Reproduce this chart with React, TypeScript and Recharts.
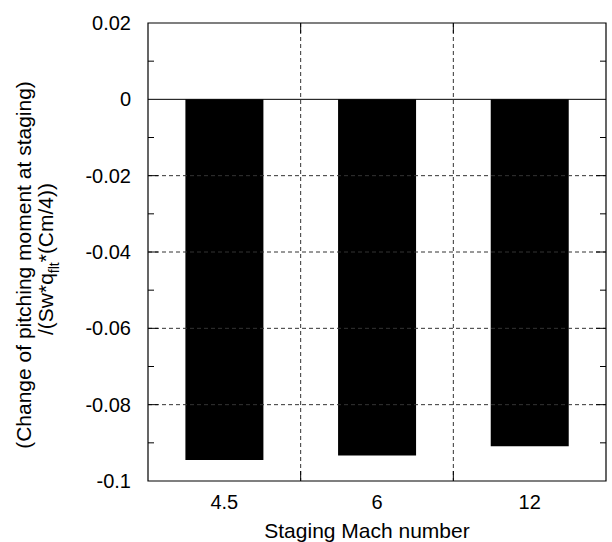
import React from 'react';
import { BarChart, Bar, XAxis, YAxis, ReferenceLine, ReferenceArea, Label } from 'recharts';

const machNumbers = ['4.5', '6', '12'];
const momentChange = [-0.0945, -0.0933, -0.0909];

const yMajorTicks = [0.02, 0, -0.02, -0.04, -0.06, -0.08, -0.1];
const yGridValues = [-0.02, -0.04, -0.06, -0.08];
const yMinorTicks = [0.01, -0.01, -0.03, -0.05, -0.07, -0.09];

const data = machNumbers.map((mach, i) => ({ mach, value: momentChange[i] }));

const FONT = '"Liberation Sans", Arial, sans-serif';
const GRID = '#333';

const fmt = (v: number) => String(parseFloat(v.toFixed(2)));

// horizontal line with short solid ticks at both ends; dashed body is optional
const hLine = (tick: number, dashed: boolean) => (p: any) => (
    <g>
        {dashed && <line x1={p.x1} y1={p.y1} x2={p.x2} y2={p.y2} stroke={GRID} strokeDasharray="4 3" />}
        <line x1={p.x1} y1={p.y1} x2={p.x1 + tick} y2={p.y1} stroke="#000" />
        <line x1={p.x2 - tick} y1={p.y2} x2={p.x2} y2={p.y2} stroke="#000" />
    </g>
);

// vertical boundary between categories: dashed line, ticks at top and bottom
const vLine = (p: any) => {
    const top = Math.min(p.y1, p.y2);
    const bottom = Math.max(p.y1, p.y2);
    return (
        <g>
            <line x1={p.x1} y1={top} x2={p.x2} y2={bottom} stroke={GRID} strokeDasharray="4 3" />
            <line x1={p.x1} y1={top} x2={p.x1} y2={top + 10} stroke="#000" />
            <line x1={p.x1} y1={bottom - 10} x2={p.x1} y2={bottom} stroke="#000" />
        </g>
    );
};

const XTitle = (props: any) => {
    const { x, y, width, height } = props.viewBox;
    return (
        <text x={x + width / 2 - 10} y={y + height - 4} textAnchor="middle" fontSize={21} fontFamily={FONT} fill="#000">
            Staging Mach number
        </text>
    );
};

const YTitle = (props: any) => {
    const { x, y, height } = props.viewBox;
    const cy = y + height / 2;
    const x1 = x + 31;
    const x2 = x + 53;
    return (
        <g fontFamily={FONT} fontSize={21} fill="#000">
            <text x={x1} y={cy + 13} textAnchor="middle" transform={`rotate(-90, ${x1}, ${cy + 13})`}>
                (Change of pitching moment at staging)
            </text>
            <text x={x2} y={cy + 7} textAnchor="middle" transform={`rotate(-90, ${x2}, ${cy + 7})`}>
                <tspan>/(Sw*q</tspan>
                <tspan fontSize={14} dy={6}>flt</tspan>
                <tspan dy={-6}>*(Cm/4))</tspan>
            </text>
        </g>
    );
};

export default function App() {
    return (
        <div style={{ position: 'absolute', left: 0, top: 0, background: '#fff' }}>
            <BarChart
                width={612}
                height={542}
                data={data}
                margin={{ top: 23, right: 6, bottom: 0, left: 0 }}
                barCategoryGap="24.5%"
            >
                <XAxis
                    dataKey="mach"
                    height={61}
                    interval={0}
                    tickLine={false}
                    axisLine={false}
                    tickSize={0}
                    tickMargin={14}
                    tick={{ fontSize: 20, fill: '#000', fontFamily: FONT }}
                >
                    <Label content={XTitle} />
                </XAxis>
                <YAxis
                    type="number"
                    width={148}
                    domain={[-0.1, 0.02]}
                    ticks={yMajorTicks}
                    interval={0}
                    allowDataOverflow
                    tickFormatter={fmt}
                    tickLine={false}
                    axisLine={false}
                    tickSize={0}
                    tickMargin={17}
                    tick={{ fontSize: 20, fill: '#000', fontFamily: FONT }}
                >
                    <Label content={YTitle} />
                </YAxis>
                {yGridValues.map((v) => (
                    <ReferenceLine key={`g${v}`} y={v} shape={hLine(10, true)} />
                ))}
                {yMinorTicks.map((v) => (
                    <ReferenceLine key={`m${v}`} y={v} shape={hLine(6, false)} />
                ))}
                {machNumbers.slice(0, -1).map((m) => (
                    <ReferenceLine key={`v${m}`} x={m} position="end" shape={vLine} />
                ))}
                <Bar dataKey="value" fill="#000" isAnimationActive={false} />
                <ReferenceLine y={0} stroke="#000" />
                <ReferenceArea y1={-0.1} y2={0.02} fill="none" stroke="#000" strokeWidth={1.2} fillOpacity={0} />
            </BarChart>
        </div>
    );
}
